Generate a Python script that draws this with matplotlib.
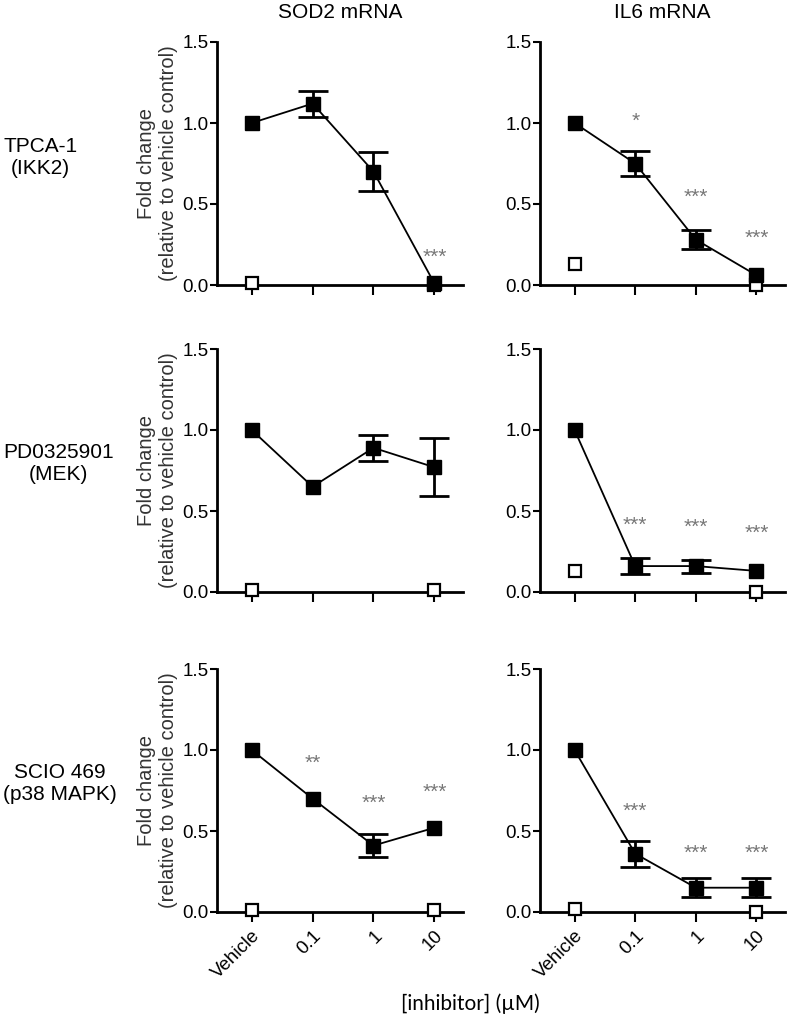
import numpy as np
import matplotlib.pyplot as plt

plt.rcParams['font.family'] = ['Liberation Sans', 'DejaVu Sans']

############################# data ########################################
doses = ['Vehicle', '0.1', '1', '10']
genes = ['SOD2 mRNA', 'IL6 mRNA']
inhibitors = ['TPCA-1\n(IKK2)', 'PD0325901\n(MEK)', 'SCIO 469\n(p38 MAPK)']

# filled squares: inhibitor treated, mean and error
sod2_tpca = [1.00, 1.12, 0.70, 0.01]
sod2_tpca_err = [0, 0.08, 0.12, 0]
il6_tpca = [1.00, 0.75, 0.28, 0.06]
il6_tpca_err = [0, 0.08, 0.06, 0]

sod2_pd = [1.00, 0.65, 0.89, 0.77]
sod2_pd_err = [0, 0, 0.08, 0.18]
il6_pd = [1.00, 0.16, 0.16, 0.13]
il6_pd_err = [0, 0.05, 0.04, 0]

sod2_scio = [1.00, 0.70, 0.41, 0.52]
sod2_scio_err = [0, 0, 0.07, 0]
il6_scio = [1.00, 0.36, 0.15, 0.15]
il6_scio_err = [0, 0.08, 0.06, 0.06]

# open squares: unstimulated control at vehicle and 10 uM
open_idx = [0, 3]
sod2_tpca_open = [0.01, 0.0]
il6_tpca_open = [0.13, 0.0]
sod2_pd_open = [0.01, 0.01]
il6_pd_open = [0.13, 0.0]
sod2_scio_open = [0.01, 0.01]
il6_scio_open = [0.02, 0.0]

# significance stars (text, y) per dose
sod2_tpca_sig = [None, None, None, ('***', 0.17)]
il6_tpca_sig = [None, ('*', 1.01), ('***', 0.54), ('***', 0.29)]
sod2_pd_sig = [None, None, None, None]
il6_pd_sig = [None, ('***', 0.41), ('***', 0.40), ('***', 0.36)]
sod2_scio_sig = [None, ('**', 0.92), ('***', 0.67), ('***', 0.74)]
il6_scio_sig = [None, ('***', 0.62), ('***', 0.36), ('***', 0.36)]

panels = [
    [(sod2_tpca, sod2_tpca_err, sod2_tpca_open, sod2_tpca_sig),
     (il6_tpca, il6_tpca_err, il6_tpca_open, il6_tpca_sig)],
    [(sod2_pd, sod2_pd_err, sod2_pd_open, sod2_pd_sig),
     (il6_pd, il6_pd_err, il6_pd_open, il6_pd_sig)],
    [(sod2_scio, sod2_scio_err, sod2_scio_open, sod2_scio_sig),
     (il6_scio, il6_scio_err, il6_scio_open, il6_scio_sig)],
]

############################# figure ######################################
W, H = 789, 1019
fig = plt.figure(figsize=(W / 100, H / 100), dpi=100)

col_x = [217, 540]
col_w = [246, 245]
row_top = [42, 349, 669]
row_h = 243

x = np.arange(len(doses))
for r in range(3):
    for c in range(2):
        ax = fig.add_axes([col_x[c] / W, 1 - (row_top[r] + row_h) / H,
                           col_w[c] / W, row_h / H])
        vals, err, opn, sig = panels[r][c]
        ax.plot([x[i] for i in open_idx], opn, 's', ms=8, mfc='white',
                mec='black', mew=1.6, clip_on=False, zorder=3)
        yerr = np.array(err, dtype=float)
        ax.errorbar(x, vals, yerr=np.where(yerr > 0, yerr, np.nan),
                    color='black', lw=1.3, elinewidth=2, capsize=11,
                    capthick=2, zorder=4, clip_on=False)
        ax.plot(x, vals, 's', color='black', ms=10, clip_on=False, zorder=5)
        for i, s in enumerate(sig):
            if s is not None:
                ax.text(x[i], s[1], s[0], ha='center', va='center',
                        fontsize=15, color='#777777')
        ax.set_xlim(-0.57, 3.47)
        ax.set_ylim(0, 1.5)
        ax.set_yticks([0, 0.5, 1.0, 1.5])
        ax.set_yticklabels(['0.0', '0.5', '1.0', '1.5'])
        ax.set_xticks(x)
        if r == 2:
            ax.set_xticklabels(doses, rotation=45, ha='right',
                               rotation_mode='anchor')
        else:
            ax.set_xticklabels([])
        for side in ['top', 'right']:
            ax.spines[side].set_visible(False)
        for side in ['left', 'bottom']:
            ax.spines[side].set_linewidth(2)
        ax.tick_params(axis='y', length=5, width=1.5, labelsize=13.5, pad=1)
        ax.tick_params(axis='x', length=7, width=1.5, labelsize=13.5, pad=4)
        if c == 0:
            ax.set_ylabel('Fold change\n(relative to vehicle control)',
                          fontsize=14.5, color='#333333', labelpad=3)
        if r == 0:
            ax.set_title(genes[c], fontsize=15, pad=17)

for r, lab in enumerate(inhibitors):
    yc = row_top[r] + 115
    fig.text(3 / W, 1 - yc / H, lab, ha='left', va='center',
             multialignment='center', fontsize=15)

fig.text(470 / W, 1 - 1004 / H, '[inhibitor] (\u00b5M)', ha='center',
         va='center', fontsize=15, family=['Lato', 'DejaVu Sans'])

fig.savefig('out.png', dpi=100)
